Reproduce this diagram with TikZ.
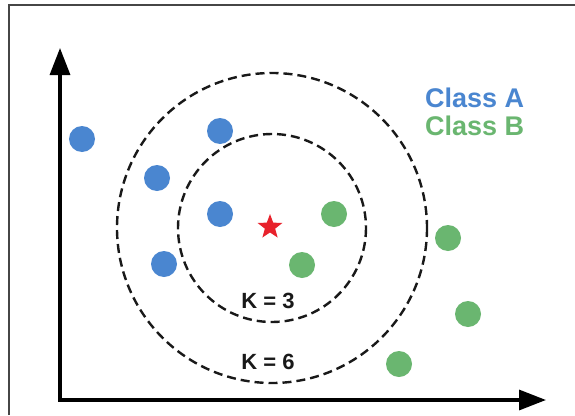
\documentclass[tikz,border=0pt]{standalone}
\usepackage{fontspec}
\setmainfont{Liberation Sans}
\usetikzlibrary{arrows.meta,shapes.geometric}
\definecolor{clsA}{RGB}{74,134,208}
\definecolor{clsB}{RGB}{106,182,112}
\definecolor{query}{RGB}{232,34,44}
\definecolor{frame}{RGB}{70,70,70}
\tikzset{
  dotA/.style={circle,fill=clsA,minimum size=26pt,inner sep=0pt},
  dotB/.style={circle,fill=clsB,minimum size=26pt,inner sep=0pt},
  ring/.style={draw=black!90,line width=2.4pt,dash pattern=on 9pt off 5pt},
  axis/.style={line width=3.3pt,line join=miter},
  klabel/.style={font=\bfseries\fontsize{22}{22}\selectfont,text=black!90},
  legend/.style={font=\bfseries\fontsize{27}{27}\selectfont,anchor=west,inner sep=0pt},
}
\begin{document}
\begin{tikzpicture}[x=1pt,y=-1pt]
  \useasboundingbox (0,0) rectangle (575,415);
  \fill[white] (0,0) rectangle (575,415);
  % outer frame
  \draw[frame,line width=1.6pt] (9,415) -- (9,5) -- (575,5);

  % axes
  \coordinate (ytip) at (60,48);
  \coordinate (origin) at (60,400);
  \coordinate (xtip) at (546,400);
  \draw[axis,{Triangle[length=27pt,width=20pt]}-{Triangle[length=27pt,width=20pt]}]
    (ytip) -- (origin) -- (xtip);

  % neighbourhood rings around the query point
  \coordinate (c) at (272,228);
  \draw[ring] (c) circle[radius=94];
  \draw[ring] (c) circle[radius=155];

  % class A samples
  \node[dotA] (a1) at (82,139) {};
  \node[dotA] (a2) at (220,131) {};
  \node[dotA] (a3) at (157,178) {};
  \node[dotA] (a4) at (220,214) {};
  \node[dotA] (a5) at (164,264) {};

  % class B samples
  \node[dotB] (b1) at (334,214) {};
  \node[dotB] (b2) at (302,265) {};
  \node[dotB] (b3) at (448,238) {};
  \node[dotB] (b4) at (468,314) {};
  \node[dotB] (b5) at (399,364) {};

  % query point
  \node[star,star points=5,star point ratio=2.4,fill=query,minimum size=26pt,inner sep=0pt] (q) at (270,227) {};

  % labels
  \node[klabel] (k3) at (268,301) {K = 3};
  \node[klabel] (k6) at (268,362) {K = 6};
  \node[legend,text=clsA] (la) at (425,98) {Class A};
  \node[legend,text=clsB] (lb) at (425,126) {Class B};
\end{tikzpicture}
\end{document}
